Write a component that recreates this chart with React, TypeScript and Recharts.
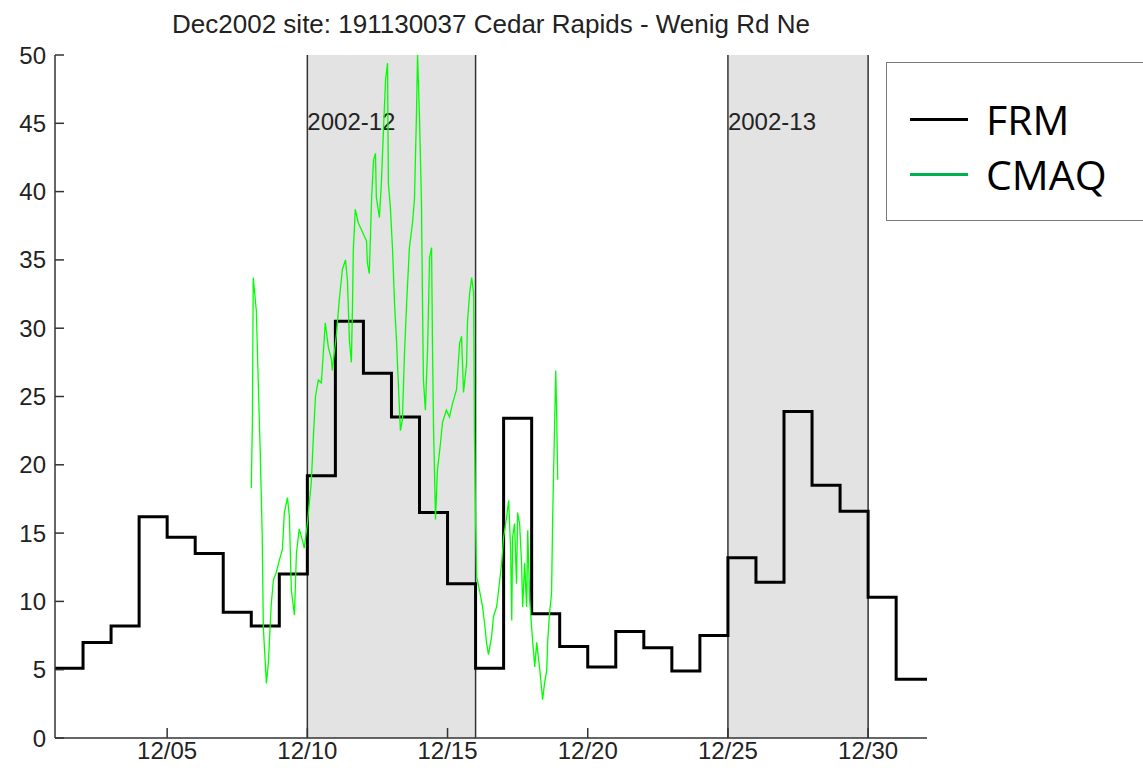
import React from 'react';
import { LineChart, Line, XAxis, YAxis, ReferenceArea, ReferenceLine } from 'recharts';

// FRM daily values (step starts at each day of Dec 2002, last point closes the final step)
const frmDays = [1, 2, 3, 4, 5, 6, 7, 8, 9, 10, 11, 12, 13, 14, 15, 16, 17, 18, 19, 20, 21, 22, 23, 24, 25, 26, 27, 28, 29, 30, 31, 32.1];
const frmValues = [5.1, 7.0, 8.2, 16.2, 14.7, 13.5, 9.2, 8.2, 12.0, 19.2, 30.5, 26.7, 23.5, 16.5, 11.3, 5.1, 23.4, 9.1, 6.7, 5.2, 7.8, 6.6, 4.9, 7.5, 13.2, 11.4, 23.9, 18.5, 16.6, 10.3, 4.3, 4.3];

// CMAQ model output (day of month, value)
const cmaqDays = [
  8.0, 8.04, 8.07, 8.18, 8.25, 8.32, 8.39, 8.43, 8.54, 8.61, 8.71, 8.79, 8.89, 9.0, 9.11, 9.18, 9.29, 9.36, 9.43, 9.54,
  9.61, 9.71, 9.82, 9.89, 10.0, 10.14, 10.21, 10.29, 10.39, 10.5, 10.57, 10.64, 10.75, 10.86, 10.89, 11.04, 11.14, 11.25, 11.36, 11.43,
  11.5, 11.57, 11.61, 11.64, 11.71, 11.82, 11.93, 12.04, 12.11, 12.14, 12.21, 12.29, 12.36, 12.43, 12.46, 12.57, 12.64, 12.71, 12.79, 12.86,
  12.89, 12.96, 13.04, 13.11, 13.18, 13.25, 13.32, 13.39, 13.46, 13.54, 13.64, 13.75, 13.82, 13.89, 13.93, 14.0, 14.07, 14.11, 14.14, 14.21,
  14.29, 14.36, 14.43, 14.46, 14.5, 14.57, 14.64, 14.75, 14.82, 14.96, 15.07, 15.18, 15.32, 15.36, 15.43, 15.5, 15.57, 15.68, 15.71, 15.79,
  15.86, 15.93, 15.96, 16.0, 16.04, 16.14, 16.25, 16.32, 16.39, 16.46, 16.57, 16.64, 16.75, 16.82, 16.93, 17.0, 17.11, 17.18, 17.25, 17.29,
  17.32, 17.39, 17.46, 17.5, 17.57, 17.64, 17.68, 17.75, 17.82, 17.86, 17.93, 18.0, 18.04, 18.11, 18.18, 18.21, 18.29, 18.36, 18.39, 18.46,
  18.54, 18.57, 18.64, 18.71, 18.75, 18.82, 18.86, 18.89, 18.93,
];
const cmaqValues = [
  18.3, 23.1, 33.7, 31.3, 26.0, 20.9, 14.9, 8.1, 4.0, 5.5, 9.7, 11.6, 12.1, 13.0, 13.8, 16.5, 17.6, 16.2, 10.8, 9.0,
  13.5, 15.3, 14.5, 13.9, 15.7, 18.7, 21.8, 25.0, 26.2, 26.0, 28.2, 30.4, 28.6, 27.7, 26.9, 29.6, 32.1, 34.3, 35.0, 33.5,
  29.1, 27.5, 31.6, 35.7, 38.7, 37.7, 37.2, 36.7, 36.4, 34.8, 34.0, 39.4, 42.3, 42.8, 39.6, 38.1, 40.6, 44.3, 48.2, 49.4,
  40.6, 38.9, 35.7, 31.8, 29.1, 25.7, 22.5, 23.3, 27.9, 31.8, 35.9, 37.7, 39.4, 45.5, 50.0, 45.5, 39.2, 31.3, 26.2, 24.0,
  28.6, 35.2, 35.9, 29.4, 22.8, 16.0, 19.6, 21.6, 23.1, 24.0, 23.5, 24.5, 25.5, 26.7, 28.9, 29.4, 25.3, 27.4, 30.4, 32.6,
  33.7, 32.6, 22.0, 16.0, 11.8, 10.8, 9.6, 8.4, 7.0, 6.1, 7.4, 8.9, 9.6, 10.8, 12.8, 14.7, 16.2, 17.4, 13.8, 8.6,
  14.7, 15.7, 11.3, 16.5, 15.7, 12.8, 9.6, 12.8, 9.6, 15.2, 10.1, 8.1, 7.0, 5.2, 7.0, 6.4, 5.0, 3.5, 2.8, 4.0,
  5.0, 7.0, 9.2, 10.6, 16.2, 23.1, 26.9, 24.0, 18.9,
];

const xTicks = [5, 10, 15, 20, 25, 30];
const yTicks = [0, 5, 10, 15, 20, 25, 30, 35, 40, 45, 50];

// shaded episode periods
const episodes = [
  { name: '2002-12', start: 10, end: 16 },
  { name: '2002-13', start: 25, end: 30 },
];

const legendItems = [
  { label: 'FRM', color: '#000' },
  { label: 'CMAQ', color: '#00b050' },
];

const title = 'Dec2002 site: 191130037 Cedar Rapids - Wenig Rd Ne';

const frmData = frmDays.map((d, i) => ({ day: d, value: frmValues[i] }));
const cmaqData = cmaqDays.map((d, i) => ({ day: d, value: cmaqValues[i] }));

const AXIS_FONT = '"Liberation Sans", Arial, sans-serif';
const AXIS_COLOR = '#333';
const LEGEND_FONT = '"Open Sans", "Noto Sans", sans-serif';

const XTick = (props: any) => {
  const { x, y, payload } = props;
  const d = payload.value;
  return (
    <g>
      <line x1={x} x2={x} y1={y - 4} y2={y - 14} stroke={AXIS_COLOR} strokeWidth={1.5} />
      <text x={x} y={y} dy="0.71em" textAnchor="middle" fontFamily={AXIS_FONT} fontSize={24} fill="#222">
        {`12/${d < 10 ? '0' + d : d}`}
      </text>
    </g>
  );
};

const YTick = (props: any) => {
  const { x, y, payload } = props;
  return (
    <g>
      <line x1={x + 9} x2={x + 18} y1={y} y2={y} stroke={AXIS_COLOR} strokeWidth={1.5} />
      <text x={x} y={y} dy="0.355em" textAnchor="end" fontFamily={AXIS_FONT} fontSize={24} fill="#222">
        {payload.value}
      </text>
    </g>
  );
};

const EpisodeLabel = (props: any) => {
  const { viewBox, text } = props;
  return (
    <text x={viewBox.x} y={viewBox.y + 75} fontFamily={AXIS_FONT} fontSize={24} fill="#222">
      {text}
    </text>
  );
};

const ChartLegend = () => (
  <div
    style={{
      position: 'absolute',
      left: 886,
      top: 62,
      width: 270,
      height: 159,
      border: '1px solid #7a7a7a',
      background: '#fff',
      boxSizing: 'border-box',
    }}
  >
    {legendItems.map((item, i) => {
      const top = 56 + i * 55;
      return (
        <div key={item.label}>
          <div style={{ position: 'absolute', left: 23, top: top - 1, width: 58, height: 2.5, background: item.color }} />
          <div
            style={{
              position: 'absolute',
              left: 99,
              top: top - 25,
              height: 50,
              lineHeight: '50px',
              fontFamily: LEGEND_FONT,
              fontSize: 41,
              color: '#000',
              whiteSpace: 'nowrap',
            }}
          >
            {item.label}
          </div>
        </div>
      );
    })}
  </div>
);

export default function App() {
  return (
    <div style={{ position: 'fixed', left: 0, top: 0, width: 1143, height: 775, overflow: 'hidden', background: '#fff' }}>
      <div
        style={{
          position: 'absolute',
          left: 55,
          width: 872,
          top: 12,
          textAlign: 'center',
          fontFamily: AXIS_FONT,
          fontSize: 26,
          lineHeight: '25px',
          color: '#222',
          whiteSpace: 'nowrap',
        }}
      >
        {title}
      </div>
      <LineChart width={1143} height={775} margin={{ top: 55, right: 216, bottom: 7, left: 0 }}>
        <XAxis
          type="number"
          dataKey="day"
          domain={[1, 32.1]}
          ticks={xTicks}
          allowDataOverflow
          tick={<XTick />}
          tickLine={false}
          tickSize={0}
          tickMargin={4}
          height={30}
          axisLine={{ stroke: AXIS_COLOR, strokeWidth: 1.5 }}
        />
        <YAxis
          type="number"
          domain={[0, 50]}
          ticks={yTicks}
          allowDataOverflow
          tick={<YTick />}
          tickLine={false}
          tickSize={0}
          tickMargin={9}
          width={55}
          axisLine={{ stroke: AXIS_COLOR, strokeWidth: 1.5 }}
        />
        {episodes.map((e) => (
          <ReferenceArea
            key={e.name}
            x1={e.start}
            x2={e.end}
            fill="#e3e3e3"
            fillOpacity={1}
            stroke="none"
            label={<EpisodeLabel text={e.name} />}
          />
        ))}
        {episodes.flatMap((e) => [e.start, e.end]).map((d) => (
          <ReferenceLine key={d} x={d} stroke={AXIS_COLOR} strokeWidth={1.5} />
        ))}
        <Line
          data={frmData}
          dataKey="value"
          type="stepAfter"
          stroke="#000"
          strokeWidth={3}
          dot={false}
          activeDot={false}
          isAnimationActive={false}
          name="FRM"
        />
        <Line
          data={cmaqData}
          dataKey="value"
          type="linear"
          stroke="#00ff00"
          strokeWidth={1.3}
          dot={false}
          activeDot={false}
          isAnimationActive={false}
          name="CMAQ"
        />
      </LineChart>
      <ChartLegend />
    </div>
  );
}
